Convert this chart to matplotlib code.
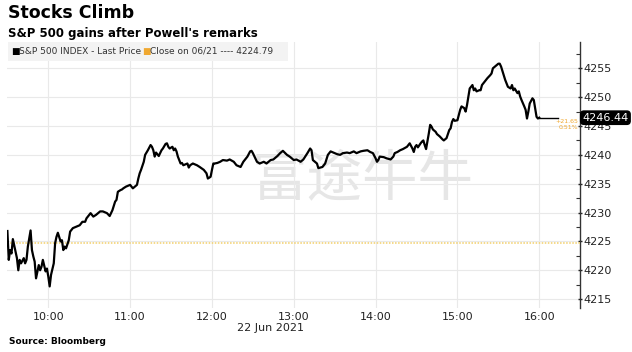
import matplotlib
matplotlib.use("Agg")
import matplotlib.pyplot as plt
import matplotlib.dates as mdates
from matplotlib.ticker import MultipleLocator
import pandas as pd

# minutes after 09:30 and S&P 500 level
minutes = [
    0, 1, 2, 3, 4, 6, 7, 8, 9, 10, 12, 13, 14, 15, 17, 18, 19, 20, 21, 23,
    24, 25, 26, 28, 29, 30, 31, 32, 34, 35, 36, 37, 39, 40, 41, 42, 43, 45, 46, 47,
    48, 51, 53, 55, 57, 58, 61, 63, 65, 68, 70, 73, 75, 77, 79, 80, 81, 83, 84, 85,
    87, 90, 92, 95, 96, 97, 98, 100, 101, 102, 103, 105, 106, 107, 108, 109, 111, 112, 113, 114,
    116, 117, 118, 119, 121, 122, 123, 124, 125, 127, 128, 129, 132, 133, 134, 136, 139, 141, 144, 146,
    147, 149, 150, 151, 152, 154, 156, 158, 161, 163, 166, 168, 171, 173, 176, 178, 179, 180, 183, 185,
    188, 190, 193, 195, 198, 200, 202, 205, 207, 210, 212, 215, 217, 220, 222, 223, 224, 227, 228, 231,
    233, 235, 237, 239, 242, 244, 246, 249, 251, 254, 256, 259, 261, 264, 266, 268, 270, 271, 272, 273,
    276, 278, 281, 283, 284, 286, 288, 290, 293, 295, 297, 298, 299, 300, 301, 303, 304, 305, 306, 307,
    309, 310, 311, 312, 314, 315, 317, 319, 320, 321, 322, 324, 325, 326, 327, 328, 330, 331, 332, 333,
    335, 336, 337, 338, 339, 341, 342, 343, 344, 346, 347, 348, 349, 350, 352, 354, 355, 356, 358, 359,
    360, 361, 362, 364, 365, 366, 367, 369, 370, 371, 372, 374, 375, 376, 377, 379, 380, 381, 382, 383,
    385, 386, 387, 388, 389, 390,
]
prices = [
    4226.8, 4221.8, 4223.5, 4222.9, 4225.4, 4223.2, 4222.1, 4220.0, 4221.8, 4221.2,
    4222.1, 4221.2, 4221.8, 4224.1, 4226.9, 4223.5, 4222.4, 4221.5, 4218.6, 4220.9,
    4220.0, 4220.6, 4221.8, 4219.8, 4220.3, 4218.9, 4217.2, 4219.2, 4221.2, 4224.7,
    4225.8, 4226.5, 4225.0, 4225.2, 4223.5, 4224.1, 4223.8, 4225.2, 4226.7, 4227.0,
    4227.3, 4227.6, 4227.8, 4228.4, 4228.4, 4229.0, 4229.9, 4229.3, 4229.6, 4230.2,
    4230.2, 4229.9, 4229.4, 4230.4, 4231.9, 4232.2, 4233.6, 4233.9, 4234.0, 4234.2,
    4234.5, 4234.8, 4234.2, 4234.8, 4235.9, 4236.8, 4237.4, 4238.8, 4240.0, 4240.4,
    4240.8, 4241.7, 4241.4, 4240.8, 4239.7, 4240.4, 4239.8, 4240.3, 4240.8, 4241.1,
    4241.9, 4242.0, 4241.4, 4241.1, 4241.4, 4240.8, 4241.1, 4240.6, 4239.7, 4238.5,
    4238.6, 4238.2, 4238.5, 4237.8, 4238.2, 4238.5, 4238.2, 4237.9, 4237.4, 4236.8,
    4235.9, 4236.2, 4237.4, 4238.5, 4238.5, 4238.6, 4238.8, 4239.1, 4239.0, 4239.2,
    4238.8, 4238.2, 4237.9, 4238.8, 4239.7, 4240.6, 4240.7, 4240.3, 4238.8, 4238.5,
    4238.8, 4238.5, 4239.1, 4239.2, 4239.8, 4240.3, 4240.7, 4240.0, 4239.7, 4239.1,
    4239.2, 4238.8, 4239.2, 4240.3, 4241.1, 4240.8, 4239.1, 4238.5, 4237.7, 4237.9,
    4238.5, 4240.0, 4240.6, 4240.4, 4240.1, 4240.0, 4240.3, 4240.4, 4240.3, 4240.6,
    4240.3, 4240.6, 4240.7, 4240.8, 4240.5, 4240.3, 4239.4, 4238.8, 4239.1, 4239.7,
    4239.6, 4239.4, 4239.2, 4239.7, 4240.3, 4240.5, 4240.8, 4241.0, 4241.4, 4242.0,
    4241.1, 4240.5, 4241.4, 4241.7, 4241.3, 4242.0, 4242.3, 4242.5, 4241.7, 4241.0,
    4243.7, 4245.2, 4244.9, 4244.4, 4244.0, 4243.6, 4243.2, 4242.7, 4242.5, 4242.7,
    4242.9, 4244.3, 4244.6, 4245.7, 4246.2, 4245.9, 4246.0, 4246.9, 4247.8, 4248.4,
    4248.1, 4247.5, 4248.6, 4250.1, 4251.5, 4252.1, 4251.2, 4251.5, 4251.0, 4251.2,
    4251.2, 4252.1, 4252.4, 4252.7, 4253.3, 4253.8, 4254.1, 4255.0, 4255.4, 4255.6,
    4255.8, 4255.8, 4255.3, 4253.8, 4253.0, 4252.4, 4251.8, 4251.5, 4252.1, 4251.2,
    4251.5, 4250.7, 4251.0, 4250.1, 4249.5, 4248.4, 4247.8, 4246.3, 4247.5, 4248.9,
    4249.8, 4249.5, 4248.1, 4246.6, 4246.3, 4246.44,
]
prev_close = 4224.79
last_price = 4246.44
change_text = ["+21.65", "0.51%"]

session_open = pd.Timestamp("2021-06-22 09:30")
times = [session_open + pd.Timedelta(minutes=m) for m in minutes]

fig = plt.figure(figsize=(6.32, 3.52), dpi=100)
ax = fig.add_axes([0.0117, 0.125, 0.9063, 0.7557])

orange = "#f0a830"

ax.plot(times, prices, color="black", lw=1.6, zorder=4)
# last price extension
ax.plot([times[-1], times[-1] + pd.Timedelta(minutes=14)], [last_price, last_price],
        color="black", lw=1.0, zorder=4)
ax.axhline(prev_close, color="#f2cf6a", lw=1.1, ls=(0, (1, 1)), zorder=3)

ax.set_xlim(pd.Timestamp("2021-06-22 09:30"), pd.Timestamp("2021-06-22 16:30"))
ax.set_ylim(4213.46, 4259.56)

ax.xaxis.set_major_locator(mdates.HourLocator())
ax.xaxis.set_major_formatter(mdates.DateFormatter("%H:%M"))
ax.yaxis.set_major_locator(MultipleLocator(5))
ax.yaxis.set_minor_locator(MultipleLocator(2.5))
ax.yaxis.tick_right()

ax.grid(True, which="major", color="#e9e9e9", lw=0.8)
for side in ["top", "left", "bottom"]:
    ax.spines[side].set_visible(False)
ax.spines["right"].set_color("#333333")
ax.spines["right"].set_linewidth(1.0)

ax.tick_params(axis="x", length=0, labelsize=8, colors="#222222", pad=3)
ax.tick_params(axis="y", which="major", length=3, width=1, direction="inout",
               labelsize=8, colors="#222222", pad=1)
ax.tick_params(axis="y", which="minor", length=3, width=0.8, direction="in", colors="#333333")

# watermark
ax.text(0.62, 0.485, "富途牛牛", transform=ax.transAxes, fontsize=40,
        family=["Noto Sans CJK SC", "DejaVu Sans"], color="#d6d6d6", alpha=0.6,
        ha="center", va="center", zorder=1)

# price tag and change
ax.annotate(f"{last_price:.2f}", xy=(1.0, last_price), xycoords=("axes fraction", "data"),
            xytext=(1.5, 0), textcoords="offset points", ha="left", va="center",
            fontsize=8, color="white", annotation_clip=False, zorder=6,
            bbox=dict(boxstyle="round,pad=0.15,rounding_size=0.3", fc="black", ec="black"))
ax.annotate(change_text[0] + "\n" + change_text[1], xy=(0.996, last_price),
            xycoords=("axes fraction", "data"), xytext=(0, -1), textcoords="offset points",
            ha="right", va="top", fontsize=4.5, color=orange, linespacing=1.3,
            annotation_clip=False)

# titles
fig.text(0.012, 0.962, "Stocks Climb", fontsize=12.5, fontweight="bold", va="center", color="black")
fig.text(0.012, 0.905, "S&P 500 gains after Powell's remarks", fontsize=8.5,
         fontweight="bold", va="center", color="black")

# legend strip
fig.patches.append(plt.Rectangle((0.012, 0.828), 0.443, 0.053, transform=fig.transFigure,
                                 fc="#f3f3f3", ec="none", zorder=0))
fig.text(0.018, 0.854, "■", fontsize=6.5, color="black", va="center")
fig.text(0.030, 0.854, "S&P 500 INDEX - Last Price", fontsize=6.5, color="#333333", va="center")
fig.text(0.225, 0.854, "■", fontsize=6.5, color=orange, va="center")
fig.text(0.237, 0.854, f"Close on 06/21 ---- {prev_close:.2f}", fontsize=6.5,
         color="#333333", va="center")

fig.text(0.428, 0.068, "22 Jun 2021", fontsize=8, color="#222222", ha="center", va="center")
fig.text(0.014, 0.031, "Source: Bloomberg", fontsize=6.5, fontweight="bold", va="center")

fig.savefig("out.png", dpi=100, facecolor="white")
